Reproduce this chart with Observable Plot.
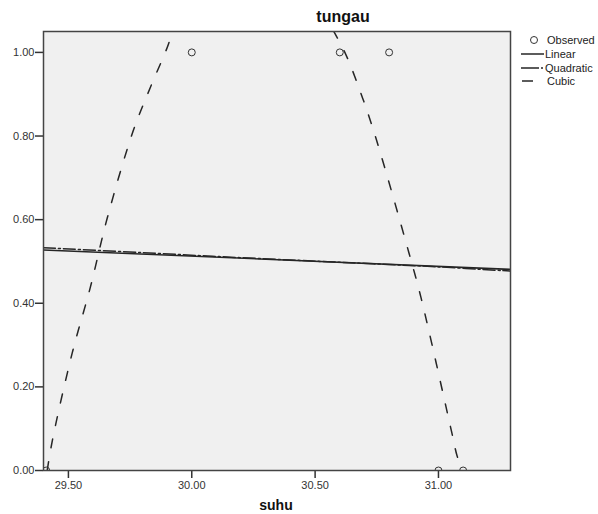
<!DOCTYPE html>
<html>
<head>
<meta charset="utf-8">
<script src="https://cdn.jsdelivr.net/npm/d3@7"></script>
<script src="https://cdn.jsdelivr.net/npm/@observablehq/plot@0.6"></script>
<style>
  html, body { margin: 0; padding: 0; background: #fff; overflow: hidden; }
  svg { overflow: hidden; }
</style>
</head>
<body>
<div id="chart"></div>
<script>
// ---- data ----
const title = "tungau";
const xLabel = "suhu";
const xTicks = [29.5, 30.0, 30.5, 31.0];
const yTicks = [0, 0.2, 0.4, 0.6, 0.8, 1.0];

const observedX = [29.41, 30.00, 30.60, 30.80, 31.00, 31.10];
const observedY = [0, 1, 1, 1, 0, 0];

const linearX = [29.399, 31.292];
const linearY = [0.5275, 0.481];

const quadraticX = [29.399, 29.8, 30.2, 30.6, 31.0, 31.292];
const quadraticY = [0.533, 0.521, 0.509, 0.498, 0.487, 0.477];

const cubicLeftX = [29.414, 29.435, 29.515, 29.589, 29.658, 29.763, 29.832, 29.905, 29.92];
const cubicLeftY = [0, 0.072, 0.28, 0.4385, 0.605, 0.813, 0.916, 1.019, 1.05];
const cubicRightX = [30.573, 30.626, 30.693, 30.747, 30.881, 30.929, 31.055, 31.075, 31.097];
const cubicRightY = [1.053, 0.993, 0.89, 0.794, 0.519, 0.414, 0.088, 0.036, 0];

const legendLabels = ["Observed", "Linear", "Quadratic", "Cubic"];

// ---- tables ----
const zip = (xs, ys) => xs.map((x, i) => ({x, y: ys[i]}));
const observed = zip(observedX, observedY);
const linear = zip(linearX, linearY);
const quadratic = zip(quadraticX, quadraticY);
const cubicLeft = zip(cubicLeftX, cubicLeftY);
const cubicRight = zip(cubicRightX, cubicRightY);

const lineColor = "#262626";
const fmt = d3.format(".2f");

const plot = Plot.plot({
  width: 598,
  height: 514,
  marginLeft: 43,
  marginRight: 88,
  marginTop: 31,
  marginBottom: 44,
  style: {fontFamily: "'Liberation Sans', Arial, sans-serif", fontSize: "11px", color: "#333", background: "#fff"},
  x: {domain: [29.399, 31.292]},
  y: {domain: [0, 1.05]},
  marks: [
    Plot.frame({fill: "#f0f0f0"}),
    Plot.line(linear, {x: "x", y: "y", stroke: lineColor, strokeWidth: 1.5, clip: true}),
    Plot.line(quadratic, {x: "x", y: "y", stroke: lineColor, strokeWidth: 1.5, strokeDasharray: "12,3,2,3", curve: "catmull-rom", clip: true}),
    Plot.line(cubicLeft, {x: "x", y: "y", stroke: lineColor, strokeWidth: 1.5, strokeDasharray: "9,14", curve: "catmull-rom", clip: true}),
    Plot.line(cubicRight, {x: "x", y: "y", stroke: lineColor, strokeWidth: 1.5, strokeDasharray: "9,14", curve: "catmull-rom", clip: true}),
    Plot.dot(observed, {x: "x", y: "y", r: 3.5, stroke: "#333", strokeWidth: 1, fill: "none", clip: true}),
    Plot.axisX({ticks: xTicks, tickFormat: fmt, tickSize: 8, tickPadding: 3, label: null, stroke: "#333", strokeWidth: 1.5, fill: "#333"}),
    Plot.axisY({ticks: yTicks, tickFormat: fmt, tickSize: 8, tickPadding: 1, label: null, stroke: "#333", strokeWidth: 1.5, fill: "#333"}),
    Plot.frame({stroke: "#444", strokeWidth: 1.5})
  ]
});

document.getElementById("chart").appendChild(plot);

// ---- title, axis label and legend ----
const svg = d3.select(plot);
svg.append("text")
  .attr("x", 343).attr("y", 22)
  .attr("text-anchor", "middle")
  .attr("font-family", "'Liberation Sans', Arial, sans-serif")
  .attr("font-size", 16).attr("font-weight", "bold").attr("fill", "#111")
  .text(title);

svg.append("text")
  .attr("x", 276).attr("y", 510)
  .attr("text-anchor", "middle")
  .attr("font-family", "'Liberation Sans', Arial, sans-serif")
  .attr("font-size", 14).attr("font-weight", "bold").attr("fill", "#111")
  .text(xLabel);

const lg = svg.append("g")
  .attr("font-family", "'Liberation Sans', Arial, sans-serif")
  .attr("font-size", 11).attr("fill", "#222")
  .attr("text-anchor", "start");
const rowY = [40, 54, 68, 81];
// Observed
lg.append("circle").attr("cx", 534).attr("cy", rowY[0]).attr("r", 3.5)
  .attr("fill", "none").attr("stroke", "#333").attr("stroke-width", 1);
// Linear
lg.append("line").attr("x1", 521).attr("x2", 544).attr("y1", rowY[1]).attr("y2", rowY[1])
  .attr("stroke", lineColor).attr("stroke-width", 1.5);
// Quadratic
lg.append("line").attr("x1", 521).attr("x2", 544).attr("y1", rowY[2]).attr("y2", rowY[2])
  .attr("stroke", lineColor).attr("stroke-width", 1.5).attr("stroke-dasharray", "18,2,2,4");
// Cubic
lg.append("line").attr("x1", 522).attr("x2", 533).attr("y1", rowY[3]).attr("y2", rowY[3])
  .attr("stroke", lineColor).attr("stroke-width", 1.5);
legendLabels.forEach((t, i) => {
  lg.append("text").attr("text-anchor", "start")
    .attr("x", (i === 0 || i === 3) ? 547 : 545).attr("y", rowY[i]).attr("dy", "0.35em").text(t);
});
</script>
</body>
</html>
